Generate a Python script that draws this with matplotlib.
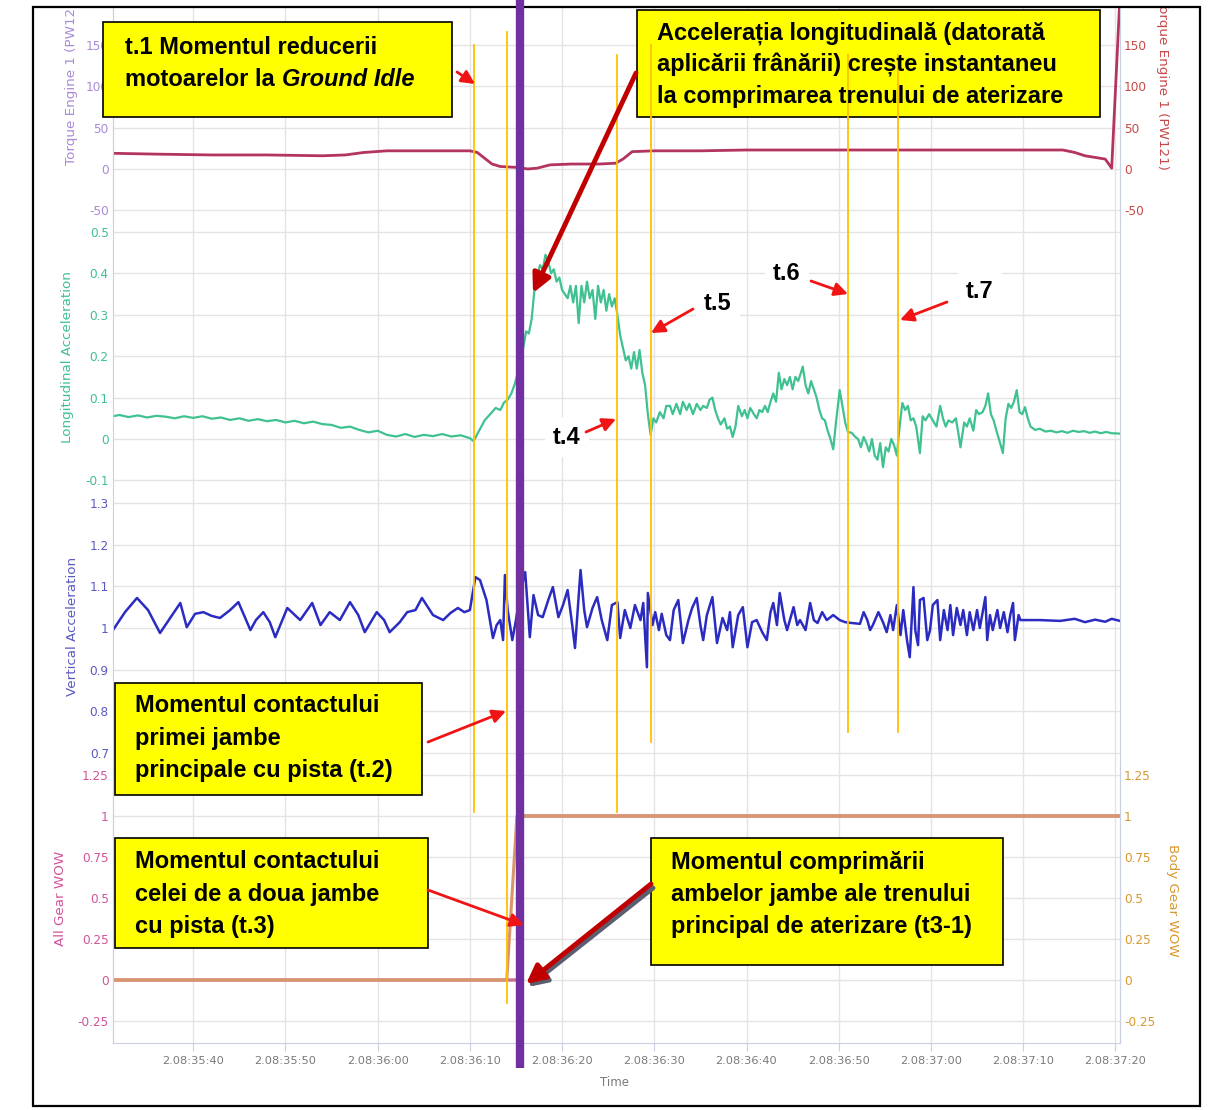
import matplotlib
matplotlib.use("Agg")
import matplotlib.pyplot as plt
from matplotlib.patches import Rectangle
from matplotlib.transforms import blended_transform_factory

W, H, DPI = 1227, 1110, 100

# ---- date (timp = secunde dupa 2.08:35:00) ----
torque_pw121 = [
    (31.3, 19), (36, 18), (42, 17), (48, 17), (54, 16), (56.5, 17), (58.5, 20), (61, 22),
    (66, 22), (70, 22), (70.8, 20), (71.6, 13), (72.4, 6), (73.3, 3), (75, 2), (76.3, 0),
    (77.3, 1), (78.7, 5), (81, 6), (84, 6), (85.8, 7), (86.6, 12), (87.6, 21), (90, 22),
    (95, 22), (100, 23), (110, 23), (120, 23), (130, 23), (134.3, 23), (135.6, 20),
    (136.7, 16), (138.9, 12), (139.6, 1), (140.5, 210),
]

long_acc = [
    (31.3, 0.055), (32, 0.058), (33, 0.053), (34, 0.057), (35, 0.052), (36, 0.056), (37, 0.054),
    (38, 0.050), (39, 0.055), (40, 0.051), (41, 0.055), (42, 0.049), (43, 0.052), (44, 0.046),
    (45, 0.050), (46, 0.044), (47, 0.048), (48, 0.043), (49, 0.046), (50, 0.040), (51, 0.044),
    (52, 0.038), (53, 0.042), (54, 0.036), (55, 0.034), (56, 0.027), (57, 0.030), (58, 0.022),
    (59, 0.016), (60, 0.020), (61, 0.010), (62, 0.006), (63, 0.012), (64, 0.005), (65, 0.010),
    (66, 0.007), (67, 0.012), (68, 0.006), (69, 0.009), (70, 0.002), (70.4, -0.005),
    (71, 0.02), (71.6, 0.045), (72.2, 0.06), (72.8, 0.075), (73.3, 0.070), (73.7, 0.088),
    (74.1, 0.095), (74.5, 0.11), (74.9, 0.135), (75.3, 0.17), (75.7, 0.21), (76.1, 0.26),
    (76.4, 0.255), (76.7, 0.29), (77.0, 0.36), (77.3, 0.39), (77.6, 0.42), (77.9, 0.41),
    (78.2, 0.445), (78.5, 0.43), (78.8, 0.40), (79.1, 0.41), (79.4, 0.38), (79.7, 0.39),
    (80.0, 0.36), (80.3, 0.35), (80.6, 0.34), (80.9, 0.37), (81.2, 0.33), (81.5, 0.37),
    (81.8, 0.28), (82.1, 0.37), (82.4, 0.33), (82.7, 0.38), (83.0, 0.34), (83.3, 0.36),
    (83.6, 0.29), (83.9, 0.37), (84.2, 0.33), (84.5, 0.36), (84.8, 0.31), (85.1, 0.35),
    (85.4, 0.32), (85.7, 0.34), (86.0, 0.30), (86.3, 0.25), (86.6, 0.22), (86.9, 0.19),
    (87.2, 0.20), (87.5, 0.17), (87.8, 0.21), (88.1, 0.17), (88.4, 0.215), (88.7, 0.16),
    (89.0, 0.13), (89.3, 0.06), (89.6, 0.01), (89.9, 0.05), (90.2, 0.04), (90.6, 0.065),
    (91.0, 0.05), (91.3, 0.08), (91.7, 0.08), (92.0, 0.06), (92.4, 0.085), (92.8, 0.06),
    (93.1, 0.09), (93.5, 0.07), (93.8, 0.085), (94.2, 0.06), (94.6, 0.085), (95.0, 0.07),
    (95.3, 0.08), (95.7, 0.075), (96.0, 0.095), (96.3, 0.10), (96.6, 0.07), (96.9, 0.05),
    (97.2, 0.035), (97.6, 0.05), (97.9, 0.025), (98.2, 0.03), (98.5, 0.005), (98.8, 0.03),
    (99.1, 0.08), (99.5, 0.055), (99.8, 0.07), (100.1, 0.05), (100.4, 0.075), (100.8, 0.06),
    (101.1, 0.05), (101.4, 0.07), (101.7, 0.065), (102.0, 0.08), (102.3, 0.065), (102.6, 0.09),
    (102.9, 0.11), (103.2, 0.09), (103.5, 0.16), (103.8, 0.12), (104.1, 0.145), (104.4, 0.13),
    (104.7, 0.15), (105.0, 0.12), (105.3, 0.15), (105.6, 0.14), (105.9, 0.16), (106.1, 0.175),
    (106.4, 0.13), (106.7, 0.11), (107.0, 0.14), (107.3, 0.12), (107.6, 0.10), (107.9, 0.07),
    (108.2, 0.05), (108.5, 0.045), (108.8, 0.02), (109.1, 0.0), (109.4, -0.025), (109.7, 0.04),
    (110.1, 0.118), (110.4, 0.08), (110.7, 0.04), (111.0, 0.017), (111.4, 0.015), (111.8, 0.005),
    (112.1, 0.0), (112.4, -0.02), (112.7, 0.005), (113.0, -0.01), (113.3, -0.03), (113.6, 0.0),
    (113.9, -0.04), (114.2, -0.05), (114.5, -0.01), (114.8, -0.068), (115.1, -0.02),
    (115.4, -0.03), (115.7, 0.0), (116.0, -0.015), (116.3, -0.04), (116.6, 0.03), (116.9, 0.087),
    (117.2, 0.07), (117.5, 0.08), (117.8, 0.045), (118.1, 0.05), (118.4, 0.03), (118.8, -0.034),
    (119.1, 0.055), (119.4, 0.045), (119.8, 0.06), (120.2, 0.045), (120.6, 0.03), (121.0, 0.08),
    (121.3, 0.05), (121.6, 0.03), (121.9, 0.045), (122.3, 0.04), (122.7, 0.05), (123.0, 0.01),
    (123.2, -0.02), (123.6, 0.04), (123.9, 0.03), (124.2, 0.05), (124.6, 0.02), (124.9, 0.07),
    (125.2, 0.06), (125.6, 0.065), (125.9, 0.08), (126.2, 0.11), (126.5, 0.06), (126.8, 0.045),
    (127.1, 0.02), (127.5, -0.01), (127.8, -0.034), (128.1, 0.05), (128.4, 0.085), (128.7, 0.075),
    (129.0, 0.09), (129.3, 0.118), (129.6, 0.065), (129.9, 0.06), (130.2, 0.077), (130.5, 0.05),
    (130.8, 0.03), (131.3, 0.022), (131.8, 0.025), (132.4, 0.018), (133.0, 0.02), (133.6, 0.016),
    (134.2, 0.019), (134.8, 0.015), (135.4, 0.02), (136.0, 0.017), (136.6, 0.019), (137.2, 0.015),
    (137.8, 0.018), (138.4, 0.014), (139.0, 0.017), (139.6, 0.014), (140.5, 0.013),
]

vert_acc = [
    (31.3, 0.995), (32.6, 1.038), (33.9, 1.072), (35.1, 1.043), (36.4, 0.988), (37.5, 1.024),
    (38.6, 1.06), (39.3, 1.002), (40.2, 1.034), (41.1, 1.038), (42.0, 1.029), (42.9, 1.024),
    (44.0, 1.043), (44.9, 1.062), (46.2, 0.995), (46.8, 1.019), (47.6, 1.038), (48.3, 1.014),
    (48.9, 0.978), (50.2, 1.048), (51.6, 1.019), (52.9, 1.06), (53.8, 1.007), (54.8, 1.038),
    (55.9, 1.019), (57.0, 1.062), (57.9, 1.031), (58.6, 0.99), (59.9, 1.038), (60.7, 1.019),
    (61.3, 0.99), (62.4, 1.014), (63.2, 1.038), (64.1, 1.043), (64.8, 1.072), (66.0, 1.031),
    (67.1, 1.019), (67.9, 1.036), (68.7, 1.048), (69.4, 1.038), (70.0, 1.043), (70.6, 1.122),
    (71.1, 1.115), (71.8, 1.067), (72.5, 0.976), (72.9, 1.007), (73.3, 1.019), (73.6, 0.971),
    (73.8, 1.127), (74.1, 1.043), (74.6, 0.971), (75.0, 1.019), (75.4, 1.079), (76.0, 1.134),
    (76.5, 0.978), (76.9, 1.079), (77.4, 1.031), (77.9, 1.026), (78.5, 1.067), (79.0, 1.098),
    (79.6, 1.026), (80.1, 1.055), (80.6, 1.091), (81.1, 1.007), (81.4, 0.952), (82.0, 1.139),
    (82.4, 1.043), (82.7, 1.002), (83.3, 1.048), (83.8, 1.074), (84.3, 1.019), (84.9, 0.971),
    (85.4, 1.055), (86.0, 1.062), (86.3, 0.976), (86.8, 1.043), (87.4, 1.0), (87.9, 1.055),
    (88.5, 1.019), (88.8, 1.06), (89.2, 0.906), (89.3, 1.084), (89.8, 1.007), (90.1, 1.038),
    (90.5, 0.995), (90.8, 1.034), (91.3, 0.983), (91.7, 0.971), (92.1, 1.043), (92.6, 1.067),
    (92.9, 1.007), (93.1, 0.964), (93.7, 1.019), (94.1, 1.048), (94.6, 1.072), (95.0, 1.007),
    (95.3, 0.971), (95.7, 1.031), (96.3, 1.074), (96.6, 1.007), (96.8, 0.964), (97.4, 1.024),
    (97.9, 0.995), (98.2, 1.038), (98.5, 0.954), (99.1, 1.031), (99.6, 1.05), (100.1, 0.954),
    (100.6, 1.014), (101.1, 1.019), (101.7, 0.99), (102.2, 0.971), (102.6, 1.038), (102.9, 1.06),
    (103.3, 1.007), (103.6, 1.084), (104.1, 1.019), (104.4, 0.995), (105.1, 1.05), (105.5, 1.007),
    (105.8, 1.019), (106.4, 0.995), (106.9, 1.06), (107.3, 1.019), (107.7, 1.012), (108.2, 1.038),
    (108.7, 1.019), (109.4, 1.031), (110.1, 1.019), (110.7, 1.014), (111.4, 1.012), (112.3, 1.01),
    (112.7, 1.038), (113.1, 1.019), (113.4, 0.995), (113.7, 1.007), (114.3, 1.038), (114.8, 1.014),
    (115.2, 0.99), (115.6, 1.031), (115.9, 0.995), (116.3, 1.055), (116.7, 0.983), (117.0, 1.043),
    (117.4, 0.971), (117.7, 0.93), (118.1, 1.098), (118.3, 0.995), (118.6, 0.959), (118.8, 1.067),
    (119.2, 1.072), (119.6, 0.971), (119.9, 0.995), (120.2, 1.055), (120.7, 1.067), (121.0, 0.971),
    (121.4, 1.043), (121.8, 0.995), (122.1, 1.055), (122.4, 0.983), (122.8, 1.048), (123.2, 1.007),
    (123.5, 1.043), (123.9, 0.983), (124.2, 1.038), (124.6, 0.995), (125.0, 1.043), (125.3, 1.0),
    (125.9, 1.074), (126.1, 0.971), (126.4, 1.031), (126.7, 0.995), (127.2, 1.043), (127.5, 1.0),
    (127.9, 1.038), (128.3, 0.99), (128.6, 1.031), (128.9, 1.06), (129.1, 0.971), (129.5, 1.031),
    (129.7, 1.019), (131.8, 1.019), (134.0, 1.017), (135.6, 1.022), (136.7, 1.014), (137.8, 1.02),
    (138.9, 1.015), (139.6, 1.022), (140.5, 1.017),
]

all_gear_wow = [(31.3, 0), (75.3, 0), (75.6, 1), (140.5, 1)]
body_gear_wow = [(31.3, 0), (74.0, 0), (75.1, 1), (140.5, 1)]

x_ticks = [40, 50, 60, 70, 80, 90, 100, 110, 120, 130, 140]
x_tick_labels = ["2.08:35:40", "2.08:35:50", "2.08:36:00", "2.08:36:10", "2.08:36:20",
                 "2.08:36:30", "2.08:36:40", "2.08:36:50", "2.08:37:00", "2.08:37:10",
                 "2.08:37:20"]

torque_ticks = [-50, 0, 50, 100, 150]
long_ticks = [-0.1, 0, 0.1, 0.2, 0.3, 0.4, 0.5]
long_tick_labels = ["-0.1", "0", "0.1", "0.2", "0.3", "0.4", "0.5"]
vert_ticks = [0.7, 0.8, 0.9, 1.0, 1.1, 1.2, 1.3]
vert_tick_labels = ["0.7", "0.8", "0.9", "1", "1.1", "1.2", "1.3"]
wow_ticks = [-0.25, 0, 0.25, 0.5, 0.75, 1, 1.25]
wow_tick_labels = ["-0.25", "0", "0.25", "0.5", "0.75", "1", "1.25"]

# momente marcate (t.1, t.2, t.4, t.5, t.6, t.7) si linia de contact (t.3)
event_times = [70.45, 74.03, 85.96, 89.65, 111.0, 116.4]
touchdown_time = 75.44

# ---- stil ----
T0, T1 = 31.3, 140.5
GRID = "#e4e4e4"
SPINE = "#c9d0e3"
C_TQ_L, C_TQ_R, C_TQ = "#a88ad8", "#c94848", "#b3345f"
C_LONG = "#3fc190"
C_VERT, C_VERT_LBL = "#2b2bc2", "#5a5ac0"
C_ALL, C_BODY = "#d0559a", "#d8982e"
YELLOW_LINE = "#ffc000"
PURPLE = "#7030a0"
ANN_FONT = "Liberation Sans"
LBL_SIZE = 9.7


def px_rect(x0, y0, x1, y1):
    return [x0 / W, 1 - y1 / H, (x1 - x0) / W, (y1 - y0) / H]


def split(pairs):
    return [p[0] for p in pairs], [p[1] for p in pairs]


def style(ax, ylim, ticks, labels, color, side="left"):
    ax.set_xlim(T0, T1)
    ax.set_ylim(*ylim)
    ax.set_yticks(ticks)
    ax.set_yticklabels(labels)
    ax.set_xticks(x_ticks)
    ax.tick_params(axis="y", length=0, pad=3, labelsize=8.7, labelcolor=color)
    ax.tick_params(axis="x", length=0, labelbottom=False)
    for s in ("top", "bottom"):
        ax.spines[s].set_visible(False)
    for s in ("left", "right"):
        ax.spines[s].set_color(SPINE)
    if side == "left":
        ax.grid(True, color=GRID, lw=1)
        ax.set_axisbelow(True)


fig = plt.figure(figsize=(W / DPI, H / DPI), dpi=DPI)
fig.patch.set_facecolor("white")

# panou 1: cuplu motor
ax1 = fig.add_axes(px_rect(113, 8, 1120, 221))
style(ax1, (-63, 195), torque_ticks, [str(v) for v in torque_ticks], C_TQ_L)
ax1r = ax1.twinx()
style(ax1r, (-63, 195), torque_ticks, [str(v) for v in torque_ticks], C_TQ_R, side="right")
t, v = split(torque_pw121)
ax1r.plot(t, v, color=C_TQ, lw=2)

# panou 2: acceleratie longitudinala
ax2 = fig.add_axes(px_rect(113, 221, 1120, 492))
style(ax2, (-0.128, 0.5266), long_ticks, long_tick_labels, C_LONG)
t, v = split(long_acc)
ax2.plot(t, v, color=C_LONG, lw=1.6)

# panou 3: acceleratie verticala
ax3 = fig.add_axes(px_rect(113, 492, 1120, 764))
style(ax3, (0.674, 1.326), vert_ticks, vert_tick_labels, C_VERT_LBL)
t, v = split(vert_acc)
ax3.plot(t, v, color=C_VERT, lw=1.8)

# panou 4: WOW
ax4 = fig.add_axes(px_rect(113, 764, 1120, 1043))
style(ax4, (-0.384, 1.317), wow_ticks, wow_tick_labels, C_ALL)
ax4r = ax4.twinx()
style(ax4r, (-0.384, 1.317), wow_ticks, wow_tick_labels, C_BODY, side="right")
t, v = split(all_gear_wow)
ax4.plot(t, v, color="#c9708a", lw=2.4)
t, v = split(body_gear_wow)
ax4r.plot(t, v, color="#d8966a", lw=2.2)
ax4.spines["bottom"].set_visible(True)
ax4.spines["bottom"].set_color(SPINE)
ax4.set_xticks(x_ticks)
ax4.set_xticklabels(x_tick_labels)
ax4.tick_params(axis="x", length=6, color=SPINE, pad=3, labelsize=8.2,
                labelcolor="#7a7a7a", labelbottom=True)

# ---- strat de adnotari, in pixeli ----
ov = fig.add_axes([0, 0, 1, 1], zorder=10)
ov.set_autoscale_on(False)
ov.set_xlim(0, W)
ov.set_ylim(H, 0)
ov.axis("off")
ov.patch.set_alpha(0)

# etichete de axa
ov.text(71, 165, "Torque Engine 1 (PW120)", rotation=90, rotation_mode="anchor",
        ha="left", va="center", color=C_TQ_L, fontsize=LBL_SIZE, zorder=2)
ov.text(1162, 170, "Torque Engine 1 (PW121)", rotation=-90, rotation_mode="anchor",
        ha="right", va="center", color=C_TQ_R, fontsize=LBL_SIZE, zorder=2)
ov.text(67, 357, "Longitudinal Acceleration", rotation=90, ha="center", va="center",
        color=C_LONG, fontsize=LBL_SIZE, zorder=2)
ov.text(72, 626, "Vertical Acceleration", rotation=90, ha="center", va="center",
        color=C_VERT_LBL, fontsize=LBL_SIZE, zorder=2)
ov.text(60, 898, "All Gear WOW", rotation=90, ha="center", va="center",
        color=C_ALL, fontsize=LBL_SIZE, zorder=2)
ov.text(1172, 900, "Body Gear WOW", rotation=-90, ha="center", va="center",
        color=C_BODY, fontsize=LBL_SIZE, zorder=2)
ov.text(615, 1083, "Time", ha="center", va="center", color="#7a7a7a", fontsize=8.5, zorder=2)

# capat taiat si chenar
ov.add_patch(Rectangle((0, 0), W, 7, facecolor="white", edgecolor="none", zorder=3))
ov.add_patch(Rectangle((33, 7), 1167, 1099, fill=False, edgecolor="black", lw=1.6, zorder=4))

# casete galbene
boxes = [(103, 22, 452, 117), (637, 10, 1100, 117), (115, 683, 422, 795),
         (115, 838, 428, 948), (651, 838, 1003, 965)]
for x0, y0, x1, y1 in boxes:
    ov.add_patch(Rectangle((x0, y0), x1 - x0, y1 - y0, facecolor="#ffff00",
                           edgecolor="black", lw=1.2, zorder=5))

# linii verticale ale momentelor
trans = blended_transform_factory(ax1.transData, ov.transData)
event_rows = [(45, 812), (32, 1003), (55, 812), (45, 742), (55, 732), (55, 732)]
for tm, (y0, y1) in zip(event_times, event_rows):
    ov.plot([tm, tm], [y0, y1], transform=trans, color=YELLOW_LINE, lw=1.3,
            clip_on=False, zorder=6)
ov.plot([touchdown_time, touchdown_time], [0, 1068], transform=trans, color=PURPLE,
        lw=6, clip_on=False, zorder=7, solid_capstyle="butt")

txt = dict(family=ANN_FONT, fontsize=17, fontweight="bold", color="black",
           ha="left", va="center", zorder=8)
ov.text(125, 47, "t.1 Momentul reducerii", **txt)
t_idle = ov.text(125, 79, "motoarelor la", **txt)
ov.annotate("Ground Idle", xy=(1, 0), xycoords=t_idle, xytext=(5, 0),
            textcoords="offset points", family=ANN_FONT, fontsize=17, fontweight="bold",
            fontstyle="italic", ha="left", va="bottom", zorder=8)
for i, line in enumerate(["Accelerația longitudinală (datorată",
                          "aplicării frânării) crește instantaneu",
                          "la comprimarea trenului de aterizare"]):
    ov.text(657, 33 + 32 * i, line, **txt)
for i, line in enumerate(["Momentul contactului", "primei jambe",
                          "principale cu pista (t.2)"]):
    ov.text(135, 706 + 32.5 * i, line, **txt)
for i, line in enumerate(["Momentul contactului", "celei de a doua jambe",
                          "cu pista (t.3)"]):
    ov.text(135, 862 + 32 * i, line, **txt)
for i, line in enumerate(["Momentul comprimării", "ambelor jambe ale trenului",
                          "principal de aterizare (t3-1)"]):
    ov.text(671, 862 + 32 * i, line, **txt)

lbl = dict(txt, bbox=dict(facecolor="white", edgecolor="none", pad=6))
ov.text(553, 437, "t.4", **lbl)
ov.text(704, 304, "t.5", **lbl)
ov.text(773, 273, "t.6", **lbl)
ov.text(966, 291, "t.7", **lbl)

# sageti
red_arrows = [((457, 72), (475, 84)), ((693, 309), (651, 333)), ((586, 432), (616, 419)),
              ((811, 281), (848, 294)), ((947, 302), (900, 320)), ((428, 742), (506, 711)),
              ((428, 890), (524, 925))]
for start, tip in red_arrows:
    ov.annotate("", xy=tip, xytext=start, zorder=9,
                arrowprops=dict(arrowstyle="-|>", color="#f01414", lw=2,
                                mutation_scale=20, shrinkA=0, shrinkB=0))
ov.annotate("", xy=(533, 293), xytext=(636, 73), zorder=9,
            arrowprops=dict(arrowstyle="-|>", color="#c00000", lw=3.5,
                            mutation_scale=28, shrinkA=0, shrinkB=0))
ov.annotate("", xy=(528, 987), xytext=(653, 888), zorder=9,
            arrowprops=dict(arrowstyle="-|>", color="#5a5f70", lw=3.5,
                            mutation_scale=28, shrinkA=0, shrinkB=0))
ov.annotate("", xy=(526, 984), xytext=(651, 884), zorder=9,
            arrowprops=dict(arrowstyle="-|>", color="#c00000", lw=3.5,
                            mutation_scale=28, shrinkA=0, shrinkB=0))

fig.savefig("out.png", dpi=DPI, facecolor="white")
